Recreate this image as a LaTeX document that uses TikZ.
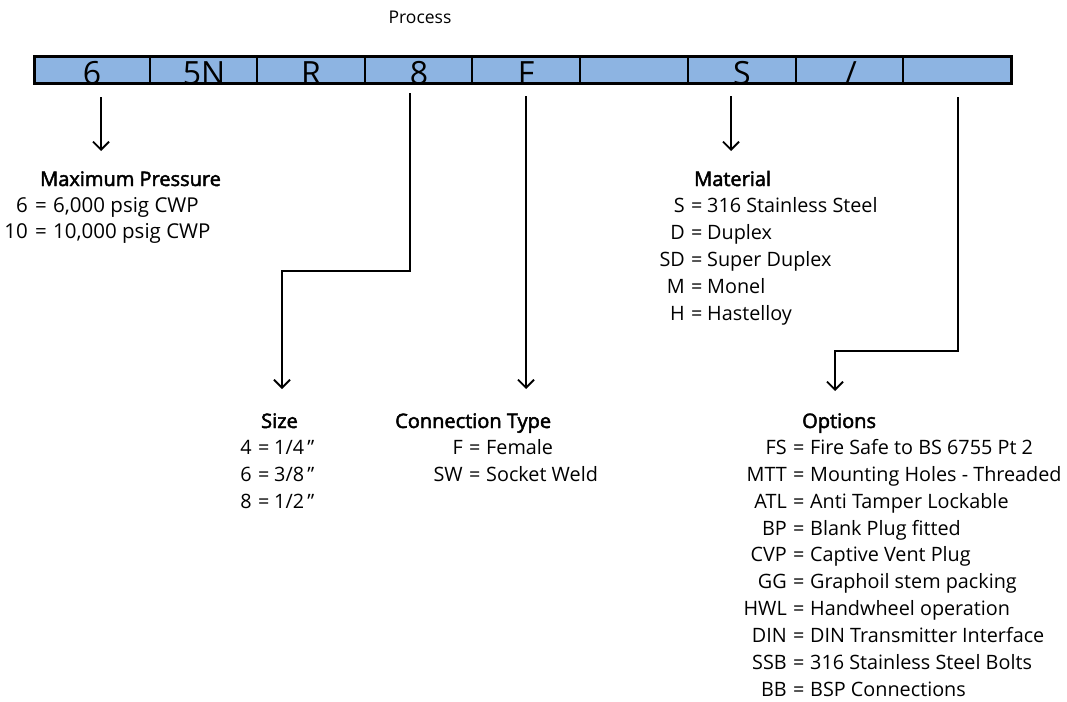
\documentclass[tikz,border=0pt]{standalone}
\usepackage{fontspec}
\setmainfont{Open Sans}
\newfontfamily\headfont{Open Sans}[FakeBold=2.4]
\usetikzlibrary{arrows.meta}
\definecolor{barblue}{RGB}{141,180,226}
\tikzset{
  body/.style={inner sep=0pt, font=\fontsize{19.8}{24}\selectfont},
  head/.style={inner sep=0pt, anchor=base west, font=\headfont\fontsize{20}{24}\selectfont},
  key/.style={body, anchor=base east},
  val/.style={body, anchor=base west},
  celltext/.style={inner sep=0pt, anchor=base, font=\fontsize{32}{36}\selectfont},
  conn/.style={line width=1.8pt, -{Straight Barb[length=8pt,width=16pt]}}
}
\begin{document}
\begin{tikzpicture}[x=1pt,y=-1pt]
\useasboundingbox (0,0) rectangle (1067,701);
% title
\node[inner sep=0pt, font=\fontsize{17.5}{20}\selectfont] (proc) at (420,17) {Process};
% bar
\fill[barblue] (34,57) rectangle (1011,83);
\begin{scope}
\clip (34,57) rectangle (1011,83);
\node[celltext] (c1) at (92,84.5) {6};
\node[celltext] (c2) at (204,84.5) {5N};
\node[celltext] (c3) at (311,84.5) {R};
\node[celltext] (c4) at (419,84.5) {8};
\node[celltext] (c5) at (526,84.5) {F};
\node[celltext] (c7) at (742,84.5) {S};
\node[celltext] (c8) at (851,84.5) {/};
\end{scope}
\draw[line width=3pt] (34,57) rectangle (1011,83);
\foreach \x in {150,257,365,472,580,688,796,903}
  \draw[line width=2.6pt] (\x,57) -- (\x,83);
% connector end points
\coordinate (a1s) at (101,97);   \coordinate (a1e) at (101,151);
\coordinate (a2s) at (410,93);   \coordinate (a2m) at (410,271);
\coordinate (a2n) at (282,271);  \coordinate (a2e) at (282,389);
\coordinate (a3s) at (526,96);   \coordinate (a3e) at (526,389);
\coordinate (a4s) at (731,96);   \coordinate (a4e) at (731,151);
\coordinate (a5s) at (958,97);   \coordinate (a5m) at (958,351);
\coordinate (a5n) at (835,351);  \coordinate (a5e) at (835,391);
\draw[conn] (a1s) -- (a1e);
\draw[conn] (a2s) -- (a2m) -- (a2n) -- (a2e);
\draw[conn] (a3s) -- (a3e);
\draw[conn] (a4s) -- (a4e);
\draw[conn] (a5s) -- (a5m) -- (a5n) -- (a5e);
% Maximum pressure
\node[head] (mph) at (40,186) {Maximum Pressure};
\foreach \k/\v/\y [count=\i] in {6/{6,000 psig CWP}/212, 10/{10,000 psig CWP}/238}{
  \node[key, font=\fontsize{20.5}{24}\selectfont] (mpk\i) at (28,\y) {\k};
  \node[val, font=\fontsize{20.5}{24}\selectfont] (mpe\i) at (35,\y) {=};
  \node[val, font=\fontsize{20.5}{24}\selectfont] (mpv\i) at (53,\y) {\v};
}
% Material
\node[head] (math) at (694,186) {Material};
\foreach \k/\v/\y [count=\i] in {S/316 Stainless Steel/212, D/Duplex/239, SD/Super Duplex/266, M/Monel/293, H/Hastelloy/320}{
  \node[key] (matk\i) at (685,\y) {\k};
  \node[val] (mate\i) at (691,\y) {=};
  \node[val] (matv\i) at (707,\y) {\v};
}
% Size
\node[head] (sizeh) at (261,428) {Size};
\foreach \k/\v/\y [count=\i] in {4/{1/4\,\char34}/454, 6/{3/8\,\char34}/481, 8/{1/2\,\char34}/508}{
  \node[key] (sizek\i) at (252,\y) {\k};
  \node[val] (sizee\i) at (258,\y) {=};
  \node[val] (sizev\i) at (274,\y) {\v};
}
% Connection type
\node[head] (conh) at (395,428) {Connection Type};
\foreach \k/\v/\y [count=\i] in {F/Female/454, SW/Socket Weld/481}{
  \node[key] (conk\i) at (463,\y) {\k};
  \node[val] (cone\i) at (469,\y) {=};
  \node[val] (conv\i) at (486,\y) {\v};
}
% Options
\node[head] (opth) at (802,428) {Options};
\foreach \k/\v/\y [count=\i] in {FS/Fire Safe to BS 6755 Pt 2/454, MTT/Mounting Holes - Threaded/481, ATL/Anti Tamper Lockable/508, BP/Blank Plug fitted/535, CVP/Captive Vent Plug/561, GG/Graphoil stem packing/588, HWL/Handwheel operation/615, DIN/DIN Transmitter Interface/642, SSB/316 Stainless Steel Bolts/669, BB/BSP Connections/696}{
  \node[key] (optk\i) at (787,\y) {\k};
  \node[val] (opte\i) at (793,\y) {=};
  \node[val] (optv\i) at (810,\y) {\v};
}
\end{tikzpicture}
\end{document}
